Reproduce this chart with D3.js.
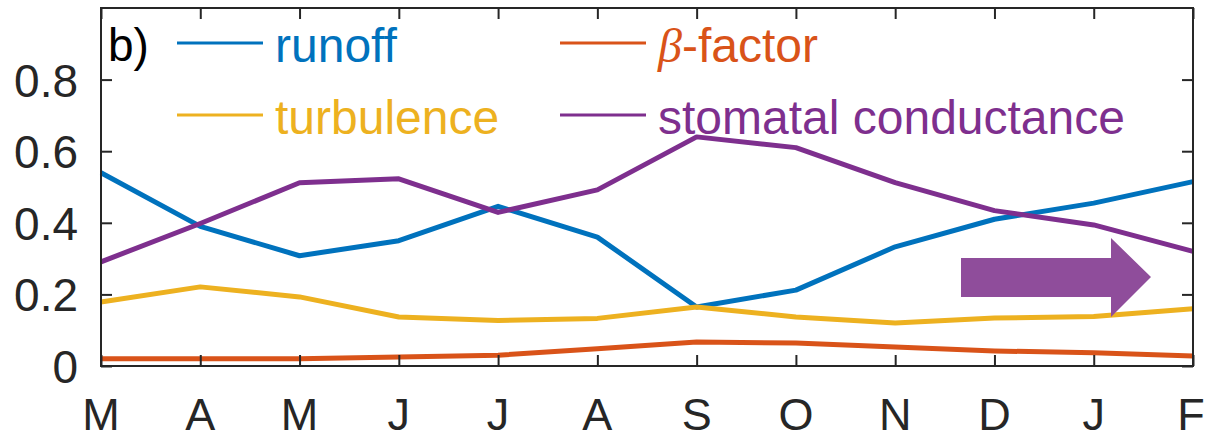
<!DOCTYPE html>
<html>
<head>
<meta charset="utf-8">
<script src="https://cdn.jsdelivr.net/npm/d3@7"></script>
<style>
	body { margin: 0; background: #fff; }
	svg { display: block; font-family: "Liberation Sans", Arial, sans-serif; }
</style>
</head>
<body>
<svg id="chart" width="1205" height="440"></svg>
<script>
"use strict";

// Data
const months = ["M", "A", "M", "J", "J", "A", "S", "O", "N", "D", "J", "F"];
const yTicks = [0, 0.2, 0.4, 0.6, 0.8];
const runoff = [0.54, 0.39, 0.308, 0.35, 0.446, 0.36, 0.165, 0.212, 0.333, 0.41, 0.455, 0.515];
const betaFactor = [0.02, 0.02, 0.02, 0.025, 0.03, 0.048, 0.067, 0.064, 0.053, 0.042, 0.037, 0.028];
const turbulence = [0.179, 0.221, 0.193, 0.137, 0.127, 0.133, 0.165, 0.137, 0.12, 0.134, 0.138, 0.16];
const stomatal = [0.291, 0.398, 0.512, 0.523, 0.429, 0.492, 0.64, 0.61, 0.512, 0.434, 0.394, 0.32];

const series = [
	{name: "runoff", values: runoff, color: "#0072BD"},
	{name: "turbulence", values: turbulence, color: "#EDB120"},
	{name: "beta", values: betaFactor, color: "#D95319"},
	{name: "stomatal conductance", values: stomatal, color: "#7E2F8E"}
];

const svg = d3.select("#chart");
const axisColor = "#262626";

// Plot box
const box = {left: 101, right: 1193, top: 8, bottom: 366};
const tickLen = 11;

const x = d3.scaleLinear().domain([0, months.length - 1]).range([box.left, box.right]);
const y = d3.scaleLinear().domain([0, 1]).range([box.bottom, box.top]);

// data lines (drawn first so the box sits on top)
const line = d3.line()
	.x((d, i) => x(i))
	.y(d => y(d));

svg.append("g")
	.selectAll("path")
	.data([series[0], series[3], series[1], series[2]])
	.enter()
	.append("path")
	.attr("d", d => line(d.values))
	.attr("fill", "none")
	.attr("stroke", d => d.color)
	.attr("stroke-width", 5)
	.attr("stroke-linejoin", "round");

// box
svg.append("rect")
	.attr("x", box.left)
	.attr("y", box.top)
	.attr("width", box.right - box.left)
	.attr("height", box.bottom - box.top)
	.attr("fill", "none")
	.attr("stroke", axisColor)
	.attr("stroke-width", 2);

// inward ticks on all four sides, MATLAB style
const xAxisB = d3.axisBottom(x).tickValues(d3.range(months.length)).tickSizeInner(-tickLen).tickSizeOuter(0).tickFormat("");
const xAxisT = d3.axisTop(x).tickValues(d3.range(months.length)).tickSizeInner(-tickLen).tickSizeOuter(0).tickFormat("");
const yAxisL = d3.axisLeft(y).tickValues(yTicks).tickSizeInner(-tickLen).tickSizeOuter(0).tickFormat("");
const yAxisR = d3.axisRight(y).tickValues(yTicks).tickSizeInner(-tickLen).tickSizeOuter(0).tickFormat("");

[
	[xAxisB, `translate(0,${box.bottom})`],
	[xAxisT, `translate(0,${box.top})`],
	[yAxisL, `translate(${box.left},0)`],
	[yAxisR, `translate(${box.right},0)`]
].forEach(([axis, tr]) => {
	const g = svg.append("g").attr("transform", tr).call(axis);
	g.select(".domain").remove();
	g.selectAll("line").attr("stroke", axisColor).attr("stroke-width", 2);
});

// tick labels (last one nudged so it stays inside the page)
svg.append("g")
	.selectAll("text")
	.data(months)
	.enter()
	.append("text")
	.attr("x", (d, i) => x(i))
	.attr("dx", (d, i) => i === months.length - 1 ? -2 : 0)
	.attr("y", 430)
	.attr("text-anchor", "middle")
	.attr("font-size", 45)
	.attr("fill", axisColor)
	.text(d => d);

svg.append("g")
	.selectAll("text")
	.data(yTicks)
	.enter()
	.append("text")
	.attr("x", 78)
	.attr("y", d => y(d) + 17)
	.attr("text-anchor", "end")
	.attr("font-size", 46)
	.attr("fill", axisColor)
	.text(d => d === 0 ? "0" : d3.format(".1f")(d));

// panel label
svg.append("text")
	.attr("x", 108)
	.attr("y", 61)
	.attr("font-size", 46)
	.attr("fill", "#000")
	.text("b)");

// legend
const legend = [
	{s: series[0], lx: 177, ly: 43},
	{s: series[1], lx: 177, ly: 115},
	{s: series[2], lx: 560, ly: 43},
	{s: series[3], lx: 560, ly: 115}
];

const lg = svg.append("g")
	.selectAll("g")
	.data(legend)
	.enter()
	.append("g");

lg.append("line")
	.attr("x1", d => d.lx)
	.attr("x2", d => d.lx + 86)
	.attr("y1", d => d.ly)
	.attr("y2", d => d.ly)
	.attr("stroke", d => d.s.color)
	.attr("stroke-width", 3);

lg.append("text")
	.attr("x", d => d.lx + 98)
	.attr("y", d => d.ly + 19)
	.attr("font-size", 48)
	.attr("fill", d => d.s.color)
	.each(function(d) {
		const t = d3.select(this);
		if (d.s.name === "beta") {
			t.append("tspan")
				.attr("font-family", "'Liberation Serif', 'Times New Roman', serif")
				.attr("font-style", "italic")
				.text("\u03B2");
			t.append("tspan").text("-factor");
		} else {
			t.text(d.s.name);
		}
	});

// purple arrow pasted over the plot
const arrowPts = [[961, 258], [1111, 258], [1111, 238], [1151, 277], [1111, 317], [1111, 297], [961, 297]];
svg.append("polygon")
	.attr("points", arrowPts.map(p => p.join(",")).join(" "))
	.attr("fill", "#8F4D9B");
</script>
</body>
</html>
